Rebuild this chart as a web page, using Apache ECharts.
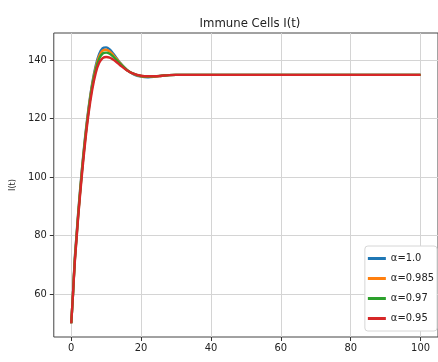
<!DOCTYPE html>
<html>
<head>
<meta charset="utf-8">
<script src="https://cdn.jsdelivr.net/npm/echarts@6/dist/echarts.min.js"></script>
<style>
  html, body { margin: 0; padding: 0; background: #fff; }
  #chart1 { width: 438px; height: 362px; }
</style>
</head>
<body>
<div id="chart1"></div>
<script>
// time points (t)
var timeList = [0, 0.5, 1, 1.5, 2, 3, 4, 5, 6, 7, 8, 9, 10, 11, 12, 13, 14, 16, 18, 20, 22, 24, 26, 28, 30, 35, 40, 50, 60, 70, 80, 90, 100];

// I(t) for each alpha
var alpha100 = [50, 60, 72, 80, 88, 102, 114, 124, 132, 138, 142, 144, 144.3, 143.6, 142.2, 140.6, 139, 136.5, 135, 134.3, 134.1, 134.3, 134.6, 134.8, 134.9, 134.9, 134.9, 134.9, 134.9, 134.9, 134.9, 134.9, 134.9];
var alpha0985 = [50, 60, 71.5, 79.5, 87.5, 101.5, 113.5, 123.5, 131.5, 137.3, 141.3, 143.2, 143.5, 142.9, 141.7, 140.3, 138.9, 136.5, 135.1, 134.4, 134.2, 134.3, 134.6, 134.8, 134.9, 134.9, 134.9, 134.9, 134.9, 134.9, 134.9, 134.9, 134.9];
var alpha097 = [50, 60, 71, 79, 87, 101, 113, 123, 131, 136.6, 140.4, 142.2, 142.5, 142.1, 141.1, 139.9, 138.7, 136.5, 135.2, 134.5, 134.3, 134.4, 134.6, 134.8, 134.9, 134.9, 134.9, 134.9, 134.9, 134.9, 134.9, 134.9, 134.9];
var alpha095 = [50, 60, 70.5, 78.5, 86.5, 100, 112, 122, 129.8, 135.5, 139, 140.6, 141, 140.8, 140.1, 139.2, 138.2, 136.4, 135.2, 134.6, 134.4, 134.4, 134.6, 134.8, 134.9, 134.9, 134.9, 134.9, 134.9, 134.9, 134.9, 134.9, 134.9];

var legendList = ['α=1.0', 'α=0.985', 'α=0.97', 'α=0.95'];
var xTicks = [0, 20, 40, 60, 80, 100];
var yTicks = [60, 80, 100, 120, 140];

var fontFam = '"Liberation Sans Narrow", "DejaVu Sans Condensed", "DejaVu Sans", sans-serif';

function pairs(ys) {
	var out = [];
	for (var i = 0; i < timeList.length; i++) {
		out.push([timeList[i], ys[i]]);
	}
	return out;
}

function makeSeries(name, ys, color) {
	return {
		name: name,
		type: 'line',
		data: pairs(ys),
		smooth: 0.3,
		showSymbol: false,
		symbol: 'none',
		lineStyle: { color: color, width: 2.4 },
		itemStyle: { color: color }
	};
}

var chart = echarts.init(document.getElementById('chart1'));
chart.setOption({
	animation: false,
	backgroundColor: '#fff',
	title: {
		text: 'Immune Cells I(t)',
		left: 245,
		top: 12,
		textAlign: 'center',
		textStyle: { fontFamily: fontFam, fontSize: 13, fontWeight: 'normal', color: '#222' }
	},
	// border draws the spines (left, top, bottom; right falls just outside)
	grid: {
		left: 51, top: 33, width: 388, height: 304,
		show: true, borderColor: '#444', borderWidth: 1
	},
	legend: {
		data: legendList,
		orient: 'vertical',
		right: 1,
		bottom: 31,
		icon: 'rect',
		itemWidth: 18,
		itemHeight: 3,
		itemGap: 9,
		padding: [7, 3, 7, 3],
		backgroundColor: '#fff',
		borderColor: '#d6d6d6',
		borderWidth: 1,
		borderRadius: 3,
		textStyle: { fontFamily: fontFam, fontSize: 11, color: '#222' }
	},
	xAxis: {
		type: 'value',
		min: -5,
		max: 105,
		axisLine: { show: false, onZero: false },
		axisTick: { show: true, length: 4, customValues: xTicks, lineStyle: { color: '#333' } },
		axisLabel: { customValues: xTicks, margin: 6, fontFamily: fontFam, fontSize: 11, color: '#222' },
		splitLine: { show: true, lineStyle: { color: '#d4d4d4', width: 1 } }
	},
	yAxis: {
		type: 'value',
		min: 45.3,
		max: 149.2,
		name: 'I(t)',
		nameLocation: 'middle',
		nameGap: 32,
		nameTextStyle: { fontFamily: fontFam, fontSize: 9, color: '#222' },
		axisLine: { show: false, onZero: false },
		axisTick: { show: true, length: 4, customValues: yTicks, lineStyle: { color: '#333' } },
		axisLabel: { customValues: yTicks, margin: 7, fontFamily: fontFam, fontSize: 11, color: '#222' },
		splitLine: { show: true, lineStyle: { color: '#d4d4d4', width: 1 } }
	},
	series: [
		makeSeries(legendList[0], alpha100, '#1f77b4'),
		makeSeries(legendList[1], alpha0985, '#ff7f0e'),
		makeSeries(legendList[2], alpha097, '#2ca02c'),
		makeSeries(legendList[3], alpha095, '#d62728')
	]
});
</script>
</body>
</html>
